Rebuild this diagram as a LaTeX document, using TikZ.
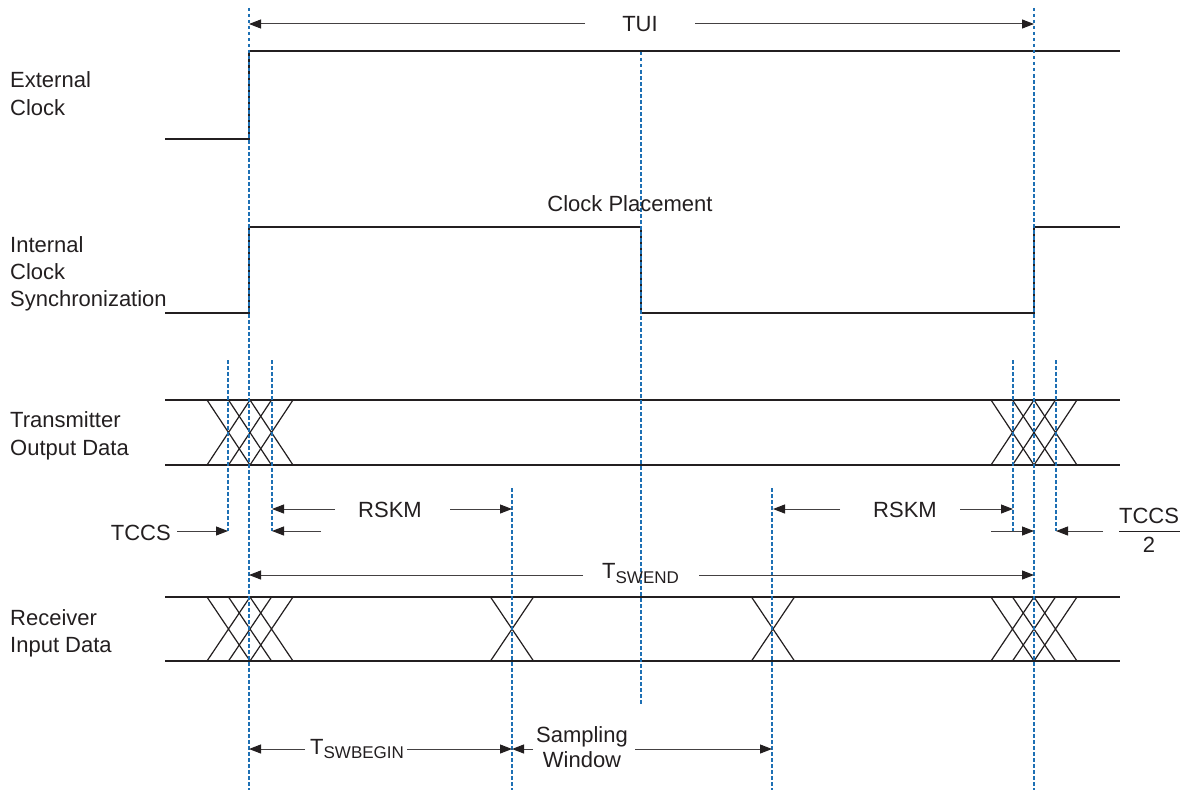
\documentclass[tikz,border=0pt]{standalone}
\usepackage{fontspec}
\setmainfont{Liberation Sans}
\usetikzlibrary{arrows.meta}
\definecolor{guideblue}{RGB}{30,112,180}
\definecolor{ink}{RGB}{35,31,32}
\begin{document}
\begin{tikzpicture}[x=1pt,y=-1pt,
  sig/.style={ink, line width=1.6pt},
  eye/.style={ink, line width=1.2pt},
  guide/.style={guideblue, line width=1.6pt, dash pattern=on 3.5pt off 2.5pt},
  dim/.style={ink!85, line width=1pt, -{Triangle[length=12pt,width=9pt,fill=ink,color=ink]}},
  lbl/.style={inner sep=0pt, font=\fontsize{22}{26}\selectfont, text=ink}]
\useasboundingbox (0,0) rectangle (1180,792);

% ---- signals ----
\draw[sig] (165,139) -- (249,139) -- (249,51) -- (1120,51);
\draw[sig] (165,313) -- (249,313) -- (249,227) -- (641,227) -- (641,313)
  -- (1034,313) -- (1034,227) -- (1120,227);
\draw[sig] (165,400) -- (1120,400) (165,465) -- (1120,465);
\draw[sig] (165,597) -- (1120,597) (165,661) -- (1120,661);

\foreach \c in {228.5,250,271.5,1012.5,1034,1055.5}{
  \draw[eye] (\c-21.5,400) -- (\c+21.5,465) (\c-21.5,465) -- (\c+21.5,400);
  \draw[eye] (\c-21.5,597) -- (\c+21.5,661) (\c-21.5,661) -- (\c+21.5,597);
}
\foreach \c in {512,773}{
  \draw[eye] (\c-21.5,597) -- (\c+21.5,661) (\c-21.5,661) -- (\c+21.5,597);
}

% ---- guide lines ----
\draw[guide] (249,8) -- (249,790);
\draw[guide] (1034,8) -- (1034,790);
\draw[guide] (641,52) -- (641,705);
\draw[guide] (228,360) -- (228,531);
\draw[guide] (272,360) -- (272,531);
\draw[guide] (1013,360) -- (1013,531);
\draw[guide] (1056,360) -- (1056,531);
\draw[guide] (512,488) -- (512,790);
\draw[guide] (772,488) -- (772,790);

% ---- labels ----
\node[lbl, anchor=base west] (ext1) at (10,88) {External};
\node[lbl, anchor=base west] (ext2) at (10,115) {Clock};
\node[lbl, anchor=base west] (int1) at (10,252) {Internal};
\node[lbl, anchor=base west] (int2) at (10,279) {Clock};
\node[lbl, anchor=base west] (int3) at (10,306) {Synchronization};
\node[lbl, anchor=base west] (tx1) at (10,427) {Transmitter};
\node[lbl, anchor=base west] (tx2) at (10,455) {Output Data};
\node[lbl, anchor=base west] (rx1) at (10,625) {Receiver};
\node[lbl, anchor=base west] (rx2) at (10,652) {Input Data};
\node[lbl, anchor=base] (cp) at (630,211) {Clock Placement};

% ---- dimension coordinates ----
\coordinate (tuiL) at (249,24);  \coordinate (tuiR) at (1034,24);
\coordinate (tuiA) at (585,24);  \coordinate (tuiB) at (695,24);
\coordinate (tccsH) at (228,531); \coordinate (tccsT) at (177,531);
\coordinate (rsk1H) at (272,509); \coordinate (rsk1T) at (335,509);
\coordinate (rsk2H) at (512,509); \coordinate (rsk2T) at (450,509);
\coordinate (sk3H) at (272,531);  \coordinate (sk3T) at (321,531);
\coordinate (rsk4H) at (773,509); \coordinate (rsk4T) at (840,509);
\coordinate (rsk5H) at (1013,509); \coordinate (rsk5T) at (960,509);
\coordinate (sk6H) at (1034,531); \coordinate (sk6T) at (991,531);
\coordinate (sk7H) at (1056,531); \coordinate (sk7T) at (1103,531);
\coordinate (sweL) at (249,575);  \coordinate (sweA) at (583,575);
\coordinate (sweR) at (1034,575); \coordinate (sweB) at (699,575);
\coordinate (swbL) at (249,749);  \coordinate (swbA) at (305,749);
\coordinate (swbR) at (512,749);  \coordinate (swbB) at (407,749);
\coordinate (sw1H) at (512,749);  \coordinate (sw1T) at (533,749);
\coordinate (sw2H) at (772,749);  \coordinate (sw2T) at (635,749);

\node[lbl, anchor=base] (tui) at (640,32) {TUI};
\draw[dim] (tuiA) -- (tuiL);
\draw[dim] (tuiB) -- (tuiR);

\node[lbl, anchor=base east] (tccs) at (171,540) {TCCS};
\draw[dim] (tccsT) -- (tccsH);

\node[lbl, anchor=base west] (rskmL) at (358,517) {RSKM};
\draw[dim] (rsk1T) -- (rsk1H);
\draw[dim] (rsk2T) -- (rsk2H);
\draw[dim] (sk3T) -- (sk3H);

\node[lbl, anchor=base west] (rskmR) at (873,517) {RSKM};
\draw[dim] (rsk4T) -- (rsk4H);
\draw[dim] (rsk5T) -- (rsk5H);
\draw[dim] (sk6T) -- (sk6H);
\draw[dim] (sk7T) -- (sk7H);

\node[lbl, anchor=base] (tccsnum) at (1149,523) {TCCS};
\node[lbl, anchor=base] (tccsden) at (1149,552) {2};
\draw[ink, line width=1pt] (1119,531) -- (1180,531);

\node[lbl, anchor=base west] (tswend) at (602,578)
  {T\raisebox{-5pt}{\fontsize{17}{17}\selectfont SWEND}};
\draw[dim] (sweA) -- (sweL);
\draw[dim] (sweB) -- (sweR);

\node[lbl, anchor=base west] (tswbegin) at (310,754)
  {T\raisebox{-4pt}{\fontsize{17}{17}\selectfont SWBEGIN}};
\draw[dim] (swbA) -- (swbL);
\draw[dim] (swbB) -- (swbR);

\node[lbl, anchor=base] (samp1) at (582,742) {Sampling};
\node[lbl, anchor=base] (samp2) at (582,767) {Window};
\draw[dim] (sw1T) -- (sw1H);
\draw[dim] (sw2T) -- (sw2H);
\end{tikzpicture}
\end{document}
